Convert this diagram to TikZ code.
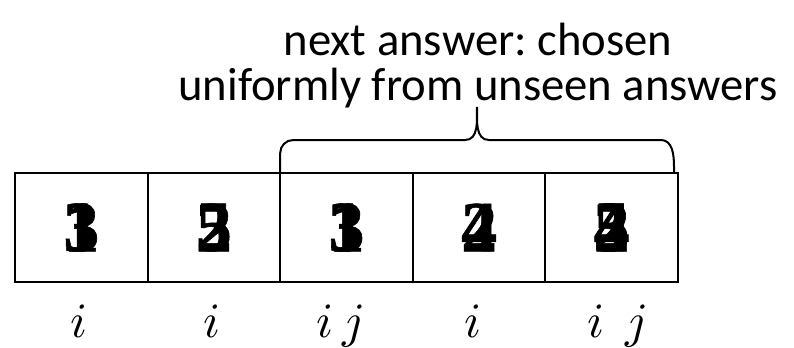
\documentclass[tikz,border=0pt]{standalone}
\usepackage{fontspec}
\usepackage{unicode-math}
\setmainfont{Carlito}
\newfontfamily\digitfont{Liberation Serif}[FakeBold=0.8]
\frenchspacing
\begin{document}
\begin{tikzpicture}[x=0.75pt,y=-0.75pt,
  cell/.style={draw, line width=1.5pt, minimum width=99.45pt, minimum height=81.75pt, inner sep=0pt, outer sep=0pt},
  dig/.style={inner sep=0pt, font=\digitfont\bfseries\fontsize{54}{60}\selectfont},
  lab/.style={inner sep=0pt, anchor=base, font=\fontsize{37}{42}\selectfont},
  ttl/.style={inner sep=0pt, anchor=base, font=\fontsize{35}{42}\selectfont},
  bracestyle/.style={line width=1.5pt}]
\useasboundingbox (0,0) rectangle (794,347);
% cells
\node[cell] (c1) at (81.3,227.5) {};
\node[cell] (c2) at (213.9,227.5) {};
\node[cell] (c3) at (346.5,227.5) {};
\node[cell] (c4) at (479.1,227.5) {};
\node[cell] (c5) at (611.7,227.5) {};
% overlapping digits
\node[dig] (d1a) at (c1) {3};
\node[dig] (d1b) at (c1) {1};
\node[dig] (d2a) at (c2) {5};
\node[dig] (d2b) at (c2) {2};
\node[dig] (d3a) at (c3) {3};
\node[dig] (d3b) at (c3) {1};
\node[dig] (d4a) at (c4) {2};
\node[dig] (d4b) at (c4) {4};
\node[dig] (d5a) at (c5) {4};
\node[dig] (d5b) at (c5) {5};
\node[dig] (d5c) at (c5) {2};
\node[dig] (d5d) at (c5) {3};
% labels
\node[lab] (l1) at (79,337) {$i$};
\node[lab] (l2) at (212,337) {$i$};
\node[lab] (l3) at (340,337) {$i\,j$};
\node[lab] (l4) at (473,337) {$i$};
\node[lab] (l5) at (617,337) {$i\;\,j$};
% title
\node[ttl] (t1) at (478,55) {next answer: chosen};
\node[ttl] (t2) at (478,100) {uniformly from unseen answers};
% brace
\coordinate (bL) at (c3.north west);
\coordinate (bR) at (674,173);
\coordinate (bT) at (477,107);
\draw[bracestyle] (bL) -- ++(0,-20) to[out=90,in=180] ++(13,-13) -- ([xshift=-9pt]bT |- 0,140)
  to[out=0,in=-90] (bT) to[out=-90,in=180] ([xshift=9pt]bT |- 0,140)
  -- ([xshift=-9.75pt]bR |- 0,140) to[out=0,in=90] ([yshift=-9.75pt]bR |- 0,153) -- (bR);
\end{tikzpicture}
\end{document}
